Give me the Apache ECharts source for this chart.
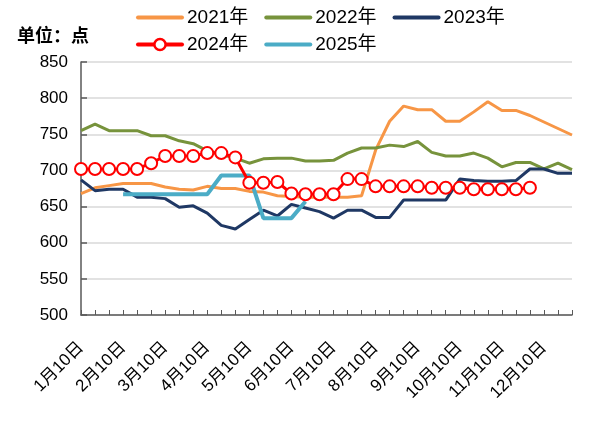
<!DOCTYPE html>
<html>
<head>
<meta charset="utf-8">
<script src="https://cdn.jsdelivr.net/npm/echarts@6/dist/echarts.min.js"></script>
<style>
html,body{margin:0;padding:0;background:#fff;}
#c{width:603px;height:423px;}
</style>
</head>
<body>
<div id="c"></div>
<script>
// Categories: three points per month (10日, 20日, 月末)
const categories = [
  '1月10日','1月20日','1月30日','2月10日','2月20日','2月28日',
  '3月10日','3月20日','3月30日','4月10日','4月20日','4月30日',
  '5月10日','5月20日','5月30日','6月10日','6月20日','6月30日',
  '7月10日','7月20日','7月30日','8月10日','8月20日','8月30日',
  '9月10日','9月20日','9月30日','10月10日','10月20日','10月30日',
  '11月10日','11月20日','11月30日','12月10日','12月20日','12月30日'
];
const seriesNames = ['2021年','2022年','2023年','2024年','2025年'];
const y2021 = [668,676,679,682,682,682,677,674,673,678,675,675,671,670,665,664,663,663,663,663,665,728,768,789,784,784,768,768,781,795,783,783,776,767,758,749];
const y2022 = [755,764,755,755,755,748,748,741,737,727,722,717,710,716,717,717,713,713,714,724,731,731,735,733,740,725,720,720,724,717,705,711,711,702,710,701];
const y2023 = [687,672,674,674,663,663,661,649,651,641,624,619,632,645,637,653,648,643,634,645,645,635,635,659,659,659,659,688,686,685,685,686,702,702,696,696];
const y2024 = [702,702,702,702,702,710,720,720,720,724,724,718,683,683,684,668,667,667,667,688,688,678,678,678,678,676,676,676,674,674,674,674,676,null,null,null];
const y2025 = [null,null,null,667,667,667,667,667,667,667,693,693,693,634,634,634,657,null,null,null,null,null,null,null,null,null,null,null,null,null,null,null,null,null,null,null];
const yTicks = {min:500, max:850, interval:50};

const FONT = "'Liberation Sans','Noto Sans CJK SC',sans-serif";
const chart = echarts.init(document.getElementById('c'), null, {renderer:'canvas'});
const legendText = {fontSize:19, color:'#000', fontFamily:FONT};
const plain = name => ({name:name, itemStyle:{opacity:0}, lineStyle:{width:4, cap:'round'}});
chart.setOption({
  animation:false,
  backgroundColor:'#fff',
  title:{text:'单位：点', left:17, top:28, padding:0,
    textStyle:{fontSize:18, fontWeight:'bold', color:'#000', fontFamily:FONT}},
  legend:[
    {data:[plain(seriesNames[0]),plain(seriesNames[1]),plain(seriesNames[2])], left:136, top:8, padding:0,
     itemWidth:44, itemHeight:14, itemGap:16, textStyle:legendText},
    {data:[{name:seriesNames[3], lineStyle:{width:4, cap:'round'}, itemStyle:{borderWidth:2.5}},plain(seriesNames[4])], left:136, top:35, padding:0,
     itemWidth:44, itemHeight:14, itemGap:16, textStyle:legendText}
  ],
  grid:{left:81, right:31, top:62, bottom:108, containLabel:false},
  xAxis:{
    type:'category', data:categories, boundaryGap:false,
    axisLine:{lineStyle:{color:'#595959', width:1.5}},
    axisTick:{inside:true, length:5, interval:0, lineStyle:{color:'#595959', width:1}},
    axisLabel:{interval:2, rotate:45, fontSize:17, color:'#000', margin:30, fontFamily:FONT},
    splitLine:{show:false}
  },
  yAxis:{
    type:'value', min:yTicks.min, max:yTicks.max, interval:yTicks.interval,
    axisLine:{show:true, lineStyle:{color:'#595959', width:1.5}},
    axisTick:{show:true, inside:true, length:6, lineStyle:{color:'#595959', width:1.5}},
    axisLabel:{fontSize:17, color:'#000', margin:13, fontFamily:FONT},
    splitLine:{show:true, lineStyle:{color:'#D9D9D9', width:1.5}}
  },
  series:[
    {name:seriesNames[0], type:'line', data:y2021, symbol:'none', z:2,
     lineStyle:{color:'#F79646', width:3}, itemStyle:{color:'#F79646'}},
    {name:seriesNames[1], type:'line', data:y2022, symbol:'none', z:2,
     lineStyle:{color:'#77933C', width:3}, itemStyle:{color:'#77933C'}},
    {name:seriesNames[2], type:'line', data:y2023, symbol:'none', z:2,
     lineStyle:{color:'#1F3864', width:3}, itemStyle:{color:'#1F3864'}},
    {name:seriesNames[4], type:'line', data:y2025, symbol:'none', z:3,
     lineStyle:{color:'#4BACC6', width:4}, itemStyle:{color:'#4BACC6'}},
    {name:seriesNames[3], type:'line', data:y2024, symbol:'circle', symbolSize:12, showAllSymbol:true, z:4,
     lineStyle:{color:'#FF0000', width:3},
     itemStyle:{color:'#FFFFFF', borderColor:'#FF0000', borderWidth:2}}
  ]
});
</script>
</body>
</html>
